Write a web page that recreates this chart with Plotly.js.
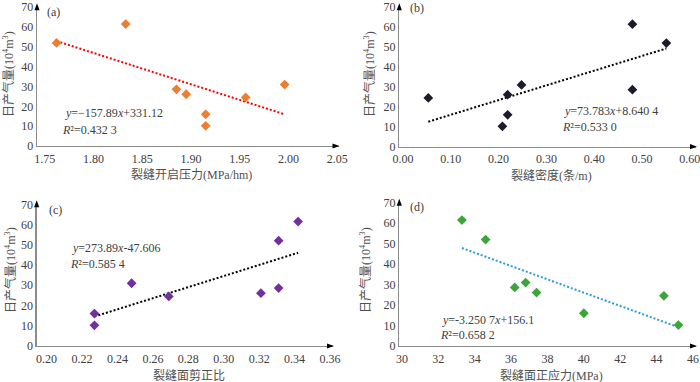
<!DOCTYPE html>
<html>
<head>
<meta charset="utf-8">
<script src="https://cdn.plot.ly/plotly-3.0.1.min.js"></script>
<style>html,body{margin:0;padding:0;background:#fff;}#chart{width:700px;height:382px;}</style>
</head>
<body>
<div id="chart"></div>
<script>
// ---- data ----
const pressA = [1.762, 1.833, 1.885, 1.895, 1.915, 1.915, 1.956, 1.996];
const prodA  = [52.0, 61.5, 28.6, 26.1, 16.0, 10.2, 24.5, 31.0];

const densB  = [0.053, 0.208, 0.219, 0.219, 0.248, 0.480, 0.480, 0.551];
const prodB  = [24.5, 10.2, 26.1, 16.0, 31.0, 61.5, 28.6, 52.0];

const ratioC = [0.227, 0.227, 0.248, 0.269, 0.321, 0.331, 0.331, 0.342];
const prodC  = [16.0, 10.2, 31.0, 24.5, 26.1, 28.6, 52.0, 61.5];

const stressD = [33.3, 34.6, 36.2, 36.8, 37.4, 40.0, 44.4, 45.2];
const prodD   = [61.5, 52.0, 28.6, 31.0, 26.1, 16.0, 24.5, 10.2];

const slopes     = [-157.89, 73.783, 273.89, -3.2507];
const intercepts = [331.12, 8.6404, -47.606, 156.1];
const eqTexts = ['<i>y</i>=−157.89<i>x</i>+331.12', '<i>y</i>=73.783<i>x</i>+8.640 4',
                 '<i>y</i>=273.89<i>x</i>-47.606', '<i>y</i>=-3.250 7<i>x</i>+156.1'];
const r2Texts = ['<i>R</i>²=0.432 3', '<i>R</i>²=0.533 0', '<i>R</i>²=0.585 4', '<i>R</i>²=0.658 2'];
const panelLabels = ['(a)', '(b)', '(c)', '(d)'];
const xTitles = ['裂缝开启压力(MPa/hm)', '裂缝密度(条/m)', '裂缝面剪正比', '裂缝面正应力(MPa)'];
const yTitle = '日产气量(10<sup>4</sup>m<sup>3</sup>)';
const xTicksA = [1.75, 1.80, 1.85, 1.90, 1.95, 2.00, 2.05];
const xTicksB = [0.00, 0.10, 0.20, 0.30, 0.40, 0.50, 0.60];
const xTicksC = [0.20, 0.22, 0.24, 0.26, 0.28, 0.30, 0.32, 0.34, 0.36];
const xTicksD = [30, 32, 34, 36, 38, 40, 42, 44, 46];
const yTicks = [0, 10, 20, 30, 40, 50, 60, 70];

// ---- styling / layout ----
const W = 700, H = 382;
const FONT = '"Times New Roman", "Liberation Serif", "Noto Sans CJK SC", serif';
const TXT = '#404040';
const TITLE = '#505050';
const markerColors = ['#ED7D31', '#1b1b2b', '#7030A0', '#3AA63A'];
const lineColors = ['#FF0000', '#000000', '#000000', '#2E9BDA'];
// pixel boxes: [left, right, top, bottom]
const boxes = [[37, 338.5, 7.2, 146], [399.3, 696, 7.2, 146.7], [36.7, 333, 204.3, 346], [399.3, 696, 202.7, 346]];
const xRanges = [[1.742, 2.0512], [-0.0077, 0.6130], [0.1944, 0.3617], [29.857, 46.165]];
const xTicks = [xTicksA, xTicksB, xTicksC, xTicksD];
const xFmt = ['.2f', '.2f', '.2f', 'd'];
const xs = [pressA, densB, ratioC, stressD];
const ys = [prodA, prodB, prodC, prodD];
const eqPos = [[63, 113, 60, 129.5], [561.7, 111, 560, 126.5], [70, 248.5, 68.3, 263.5], [440, 319.5, 438.3, 335]];
const labPos = [[45, 12.5], [408, 8.5], [46.7, 210], [408, 207]];
const yTitlePos = [[8, 74], [369, 74], [10, 270], [365, 270]];

const px = v => v / W, py = v => 1 - v / H;

const traces = [], annotations = [], shapes = [];
const layout = {
  width: W, height: H, margin: {l: 0, r: 0, t: 0, b: 0},
  paper_bgcolor: '#fff', plot_bgcolor: 'rgba(0,0,0,0)', showlegend: false,
  font: {family: FONT, size: 12, color: TXT}
};

for (let i = 0; i < 4; i++) {
  const n = i === 0 ? '' : String(i + 1);
  const b = boxes[i];
  const xa = 'x' + n, ya = 'y' + n;
  layout['xaxis' + n] = {
    domain: [px(b[0]), px(b[1])], range: xRanges[i], anchor: ya,
    showgrid: false, zeroline: false, showline: true, linecolor: '#8c8c8c', linewidth: 1.3,
    ticks: '', tickvals: xTicks[i], tickformat: xFmt[i], ticklabeloverflow: 'allow', ticklabelstandoff: 1,
    tickfont: {family: FONT, size: 12, color: TXT}, fixedrange: true
  };
  layout['yaxis' + n] = {
    domain: [py(b[3]), py(b[2])], range: [0, 70], anchor: xa,
    showgrid: false, zeroline: false, showline: true, linecolor: '#8c8c8c', linewidth: 1.3,
    ticks: '', tickvals: yTicks, ticklabeloverflow: 'allow',
    tickfont: {family: FONT, size: 12, color: TXT}, fixedrange: true
  };
  // trendline over data extent, from displayed equation
  const xmin = Math.min(...xs[i]), xmax = Math.max(...xs[i]);
  traces.push({
    x: [xmin, xmax], y: [slopes[i] * xmin + intercepts[i], slopes[i] * xmax + intercepts[i]],
    xaxis: xa, yaxis: ya, mode: 'lines', hoverinfo: 'skip',
    line: {color: lineColors[i], width: 2, dash: '2px,2px'}
  });
  traces.push({
    x: xs[i], y: ys[i], xaxis: xa, yaxis: ya, mode: 'markers',
    marker: {symbol: 'diamond', size: 7.5, color: markerColors[i]}
  });
  // arrow heads on axes
  shapes.push({type: 'path', xref: 'paper', yref: 'paper', line: {width: 0}, fillcolor: '#000',
    path: `M ${px(b[0])},${py(b[2] - 4)} L ${px(b[0] - 2.6)},${py(b[2] + 3)} L ${px(b[0] + 2.6)},${py(b[2] + 3)} Z`});
  shapes.push({type: 'path', xref: 'paper', yref: 'paper', line: {width: 0}, fillcolor: '#000',
    path: `M ${px(b[1] + 1)},${py(b[3])} L ${px(b[1] - 6)},${py(b[3] - 2.6)} L ${px(b[1] - 6)},${py(b[3] + 2.6)} Z`});
  // texts
  annotations.push({xref: 'paper', yref: 'paper', x: px(eqPos[i][0]), y: py(eqPos[i][1]), xanchor: 'left', yanchor: 'middle',
    text: eqTexts[i], showarrow: false, font: {family: FONT, size: 12, color: TXT}});
  annotations.push({xref: 'paper', yref: 'paper', x: px(eqPos[i][2]), y: py(eqPos[i][3]), xanchor: 'left', yanchor: 'middle',
    text: r2Texts[i], showarrow: false, font: {family: FONT, size: 12, color: TXT}});
  annotations.push({xref: 'paper', yref: 'paper', x: px(labPos[i][0]), y: py(labPos[i][1]), xanchor: 'left', yanchor: 'middle',
    text: panelLabels[i], showarrow: false, font: {family: FONT, size: 12, color: TXT}});
  annotations.push({xref: 'paper', yref: 'paper', x: px((b[0] + b[1]) / 2 + 4), y: py(b[3] + 29), xanchor: 'center', yanchor: 'middle',
    text: xTitles[i], showarrow: false, font: {family: FONT, size: 12, color: TITLE}});
  annotations.push({xref: 'paper', yref: 'paper', x: px(yTitlePos[i][0]), y: py(yTitlePos[i][1]), xanchor: 'center', yanchor: 'middle',
    textangle: -90, text: yTitle, showarrow: false, font: {family: FONT, size: 12, color: TITLE}});
}
layout.annotations = annotations;
layout.shapes = shapes;
Plotly.newPlot('chart', traces, layout, {displayModeBar: false, staticPlot: true});
</script>
</body>
</html>
